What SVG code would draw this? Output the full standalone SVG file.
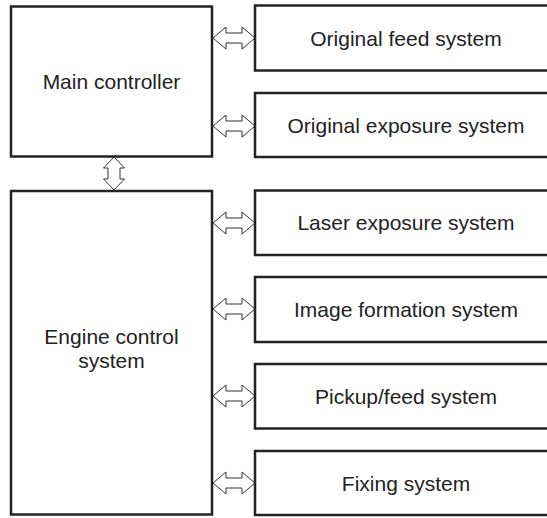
<svg xmlns="http://www.w3.org/2000/svg" xmlns:xlink="http://www.w3.org/1999/xlink" width="547" height="518" viewBox="0 0 547 518">
<style>
.box{fill:#fff;stroke:#222;stroke-width:2.5}
.lbl{font-family:"Liberation Sans",Arial,sans-serif;font-size:21px;fill:#222;text-anchor:middle}
.arr{fill:#fff;stroke:#333;stroke-width:1;stroke-linejoin:miter}
</style>
<defs>
<path id="harr" class="arr" d="M213,0 L226,-11 L226,-5 L242,-5 L242,-11 L255,0 L242,11 L242,5 L226,5 L226,11 Z"/>
</defs>
<rect x="0" y="0" width="547" height="518" fill="#fff"/>
<g id="connectors">
<use xlink:href="#harr" href="#harr" transform="translate(0,38)"/>
<use xlink:href="#harr" href="#harr" transform="translate(0,126)"/>
<use xlink:href="#harr" href="#harr" transform="translate(0,223)"/>
<use xlink:href="#harr" href="#harr" transform="translate(0,309)"/>
<use xlink:href="#harr" href="#harr" transform="translate(0,396)"/>
<use xlink:href="#harr" href="#harr" transform="translate(0,483)"/>
<path class="arr" d="M114,157 L124.5,168 L120,168 L120,179 L124.5,179 L114,190 L103.5,179 L108,179 L108,168 L103.5,168 Z"/>
</g>
<g id="main-controller">
<rect class="box" x="11" y="6.5" width="201" height="150"/>
<text class="lbl" x="111.5" y="89">Main controller</text>
</g>
<g id="engine-control">
<rect class="box" x="11" y="191" width="201" height="323.5"/>
<text class="lbl" x="111.5" y="344">Engine control</text>
<text class="lbl" x="111.5" y="368">system</text>
</g>
<g id="original-feed">
<rect class="box" x="255" y="5.5" width="302" height="65"/>
<text class="lbl" x="406" y="45.5">Original feed system</text>
</g>
<g id="original-exposure">
<rect class="box" x="255" y="93" width="302" height="64"/>
<text class="lbl" x="406" y="132.5">Original exposure system</text>
</g>
<g id="laser-exposure">
<rect class="box" x="255" y="190.5" width="302" height="64.5"/>
<text class="lbl" x="406" y="230">Laser exposure system</text>
</g>
<g id="image-formation">
<rect class="box" x="255" y="277" width="302" height="65"/>
<text class="lbl" x="406" y="316.5">Image formation system</text>
</g>
<g id="pickup-feed">
<rect class="box" x="255" y="364" width="302" height="64.5"/>
<text class="lbl" x="406" y="403.5">Pickup/feed system</text>
</g>
<g id="fixing">
<rect class="box" x="255" y="451" width="302" height="64"/>
<text class="lbl" x="406" y="490.5">Fixing system</text>
</g>
</svg>
